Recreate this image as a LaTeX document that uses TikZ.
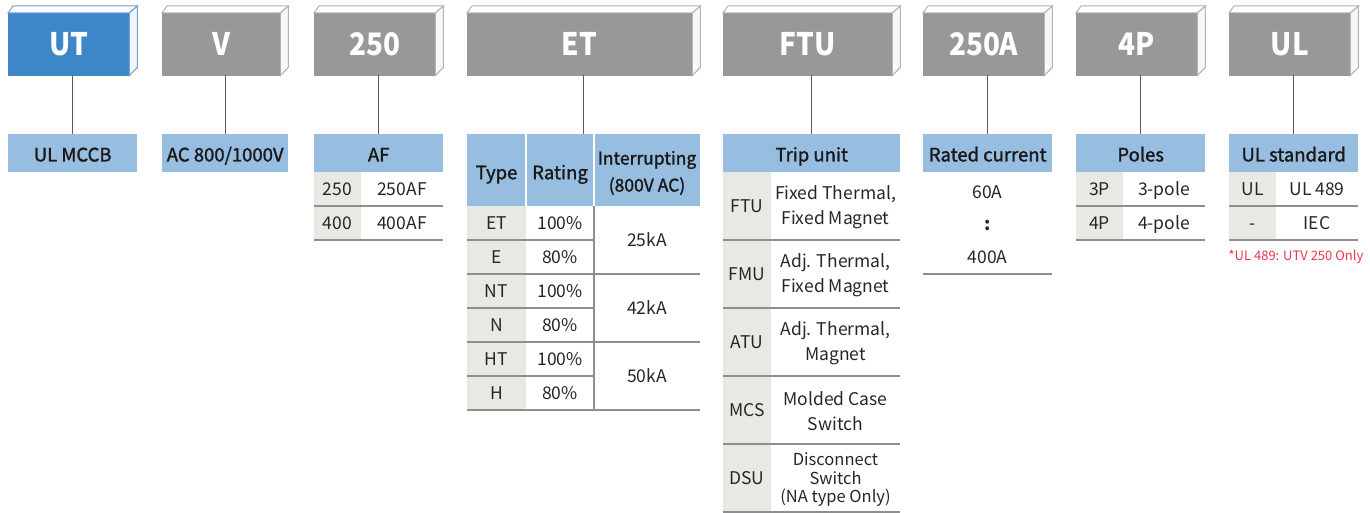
\documentclass[tikz,border=0pt]{standalone}
\usepackage{fontspec}
\setmainfont{Noto Sans CJK KR}
\newfontfamily\medfont[RawFeature={embolden=1.5}]{Noto Sans CJK KR}
\newfontfamily\boxfont[FakeStretch=0.9, BoldFeatures={FakeStretch=0.9}]{Noto Sans CJK KR}
\usetikzlibrary{calc}

\definecolor{boxblue}{HTML}{3D86C7}
\definecolor{boxgray}{HTML}{989898}
\definecolor{headblue}{HTML}{97BDE0}
\definecolor{cellgray}{HTML}{E9E9E4}
\definecolor{rulegray}{HTML}{8E8E8E}
\definecolor{notered}{HTML}{E8364F}

\tikzset{
  codebox/.style={fill=#1, draw=#1, anchor=north west, inner sep=0pt, minimum height=62pt,
    text=white, font=\boxfont\bfseries\fontsize{31}{31}\selectfont},
  headm/.style={fill=headblue, anchor=north west, inner sep=0pt, minimum height=38pt,
    text=black!90, align=center, font=\medfont\fontsize{18.5}{27}\selectfont},
  head/.style={headm, text height=17.5pt, text depth=1pt},
  cellm/.style={inner sep=0pt, text=black!85, align=center, font=\fontsize{17.5}{25}\selectfont},
  cell/.style={cellm, text height=13.5pt, text depth=1pt},
  rule/.style={draw=rulegray, line width=1.2pt},
  conn/.style={draw=black!65, line width=1.2pt},
}

% top and side faces of a code box
\newcommand\boxfaces[2]{%
  \draw[#2!75, fill=white, line width=1pt] (#1.north west) -- ++(5,-7) -- ([shift={(8,-7)}]#1.north east) -- (#1.north east) -- cycle;
  \draw[#2!75, fill=#2!8, line width=1pt] (#1.north east) -- ++(8,-7) -- ([shift={(8,-8)}]#1.south east) -- (#1.south east) -- cycle;
}

\begin{document}
\begin{tikzpicture}[x=1pt,y=-1pt]
\useasboundingbox (0,0) rectangle (1370,513);

% code boxes
\node[codebox=boxblue, minimum width=121pt] (ut) at (8,13) {UT};
\node[codebox=boxgray, minimum width=118pt] (v) at (162,13) {V};
\node[codebox=boxgray, minimum width=121pt] (af) at (314,13) {250};
\node[codebox=boxgray, minimum width=225pt] (et) at (467,13) {ET};
\node[codebox=boxgray, minimum width=169pt] (ftu) at (723,13) {FTU};
\node[codebox=boxgray, minimum width=121pt] (amp) at (923,13) {250A};
\node[codebox=boxgray, minimum width=121pt] (pole) at (1076,13) {4P};
\node[codebox=boxgray, minimum width=121pt] (std) at (1229,13) {UL};
\boxfaces{ut}{boxblue}
\foreach \b in {v,af,et,ftu,amp,pole,std} {\boxfaces{\b}{boxgray}}

% headers
\node[head, minimum width=129pt] (hut) at (8,134) {UL MCCB};
\node[head, minimum width=126pt] (hv) at (162,134) {AC 800/1000V};
\node[head, minimum width=129pt] (haf) at (314,134) {AF};
\node[headm, minimum width=233pt, minimum height=72pt] (het) at (467,134) {};
\node[head, minimum width=177pt] (hftu) at (723,134) {Trip unit};
\node[head, minimum width=129pt] (hamp) at (923,134) {Rated current};
\node[head, minimum width=129pt] (hpole) at (1076,134) {Poles};
\node[head, minimum width=129pt] (hstd) at (1229,134) {UL standard};

% connectors
\foreach \b/\h in {ut/hut,v/hv,af/haf,et/het,ftu/hftu,amp/hamp,pole/hpole,std/hstd}
  \draw[conn] (\h.north) -- (\h.north |- \b.south);

% AF table
\fill[cellgray] (314,172) rectangle (361,240);
\node[cell] (af1) at (337.5,189) {250};
\node[cell] (af1t) at (402,189) {250AF};
\node[cell] (af2) at (337.5,223) {400};
\node[cell] (af2t) at (402,223) {400AF};
\foreach \y in {206,240} \draw[rule] (314,\y) -- (443,\y);

% type table
\draw[white, line width=2pt] (526,134) -- (526,206) (594,134) -- (594,206);
\node[head, anchor=center, minimum height=0pt] (htype) at (496.5,171) {Type};
\node[head, anchor=center, minimum height=0pt] (hrate) at (560,171) {Rating};
\node[headm, anchor=center, minimum height=0pt, font=\medfont\fontsize{17.5}{27}\selectfont] (hint) at (647,173) {Interrupting\\(800V AC)};
\fill[cellgray] (467,206) rectangle (526,410);
\foreach \t/\r [count=\i] in {ET/100\%,E/80\%,NT/100\%,N/80\%,HT/100\%,H/80\%} {
  \node[cell] (type\i) at (496.5,189+34*\i) {\t};
  \node[cell] (rate\i) at (560,189+34*\i) {\r};
}
\node[cell] (ka1) at (647,240) {25kA};
\node[cell] (ka2) at (647,308) {42kA};
\node[cell] (ka3) at (647,376) {50kA};
\foreach \y in {240,308,376} \draw[rule] (467,\y) -- (594,\y);
\foreach \y in {274,342,410} \draw[rule] (467,\y) -- (700,\y);
\draw[rule] (594,206) -- (594,410);

% trip unit table
\fill[cellgray] (723,172) rectangle (771,512);
\foreach \c/\d [count=\i] in {FTU/{Fixed Thermal,\\Fixed Magnet},FMU/{Adj. Thermal,\\Fixed Magnet},
    ATU/{Adj. Thermal,\\Magnet},MCS/{Molded Case\\Switch}} {
  \node[cell] (trip\i) at (747,138+68*\i) {\c};
  \node[cellm] (tripd\i) at (835.5,139+68*\i) {\d};
}
\node[cell] (trip5) at (747,478) {DSU};
\node[cellm, font=\fontsize{16.5}{18.5}\selectfont] (tripd5) at (835.5,480) {Disconnect\\Switch\\(NA type Only)};
\foreach \y in {240,308,376,444,512} \draw[rule] (723,\y) -- (900,\y);

% rated current
\node[cell] (amp1) at (987.5,192) {60A};
\node[cell, font=\bfseries\fontsize{18}{25}\selectfont] (amp2) at (987.5,224) {:};
\node[cell] (amp3) at (987.5,257) {400A};
\draw[rule] (923,274) -- (1052,274);

% poles
\fill[cellgray] (1076,172) rectangle (1123,240);
\node[cell] (pole1) at (1099.5,189) {3P};
\node[cell] (pole1t) at (1164,189) {3-pole};
\node[cell] (pole2) at (1099.5,223) {4P};
\node[cell] (pole2t) at (1164,223) {4-pole};
\foreach \y in {206,240} \draw[rule] (1076,\y) -- (1205,\y);

% UL standard
\fill[cellgray] (1229,172) rectangle (1276,240);
\node[cell] (std1) at (1252.5,189) {UL};
\node[cell] (std1t) at (1317,189) {UL 489};
\node[cell] (std2) at (1252.5,223) {-};
\node[cell] (std2t) at (1317,223) {IEC};
\foreach \y in {206,240} \draw[rule] (1229,\y) -- (1358,\y);
\node[cellm, text=notered, font=\fontsize{13}{15}\selectfont] (note) at (1296,257) {*UL 489: UTV 250 Only};
\end{tikzpicture}
\end{document}
